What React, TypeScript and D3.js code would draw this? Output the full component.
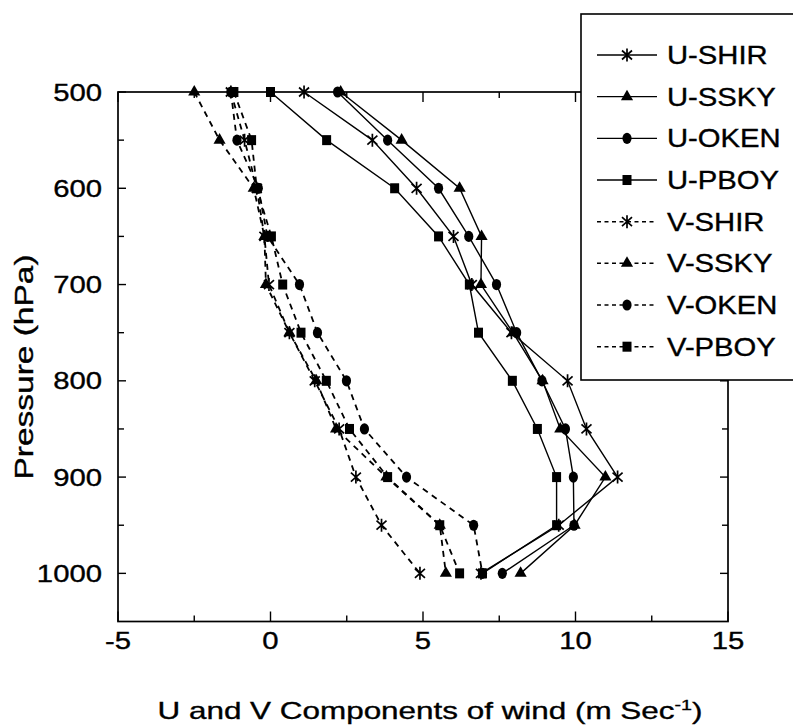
import React from 'react';
import * as d3 from 'd3';

const pressure = [500, 550, 600, 650, 700, 750, 800, 850, 900, 950, 1000];

const uShir = [1.1, 3.34, 4.79, 6.0, 6.6, 7.9, 9.74, 10.36, 11.38, 9.45, 6.9];
const uSsky = [2.3, 4.3, 6.2, 6.92, 6.9, 7.95, 8.92, 9.5, 10.98, 9.97, 8.2];
const uOken = [2.2, 3.84, 5.51, 6.5, 7.41, 8.07, 8.9, 9.67, 9.93, 9.95, 7.6];
const uPboy = [0.0, 1.84, 4.07, 5.51, 6.52, 6.82, 7.93, 8.75, 9.38, 9.38, 6.95];

const vShir = [-1.3, -0.85, -0.45, -0.2, -0.05, 0.62, 1.45, 2.25, 2.8, 3.64, 4.9];
const vSsky = [-2.5, -1.67, -0.55, -0.2, -0.15, 0.62, 1.5, 2.15, 3.8, 5.55, 5.75];
const vOken = [-1.3, -1.1, -0.4, -0.1, 0.95, 1.54, 2.49, 3.08, 4.46, 6.66, 6.95];
const vPboy = [-1.2, -0.62, -0.45, 0.03, 0.4, 1.0, 1.83, 2.59, 3.84, 5.55, 6.2];

const seriesNames = ['U-SHIR', 'U-SSKY', 'U-OKEN', 'U-PBOY', 'V-SHIR', 'V-SSKY', 'V-OKEN', 'V-PBOY'];
const seriesValues = [uShir, uSsky, uOken, uPboy, vShir, vSsky, vOken, vPboy];
const seriesMarkers = ['star', 'tri', 'circle', 'square', 'star', 'tri', 'circle', 'square'];
const seriesDashed = [false, false, false, false, true, true, true, true];

const xTickLabels = [-5, 0, 5, 10, 15];
const xMinorTicks = [-2.5, 2.5, 7.5, 12.5];
const yTickLabels = [500, 600, 700, 800, 900, 1000];
const yMinorTicks = [550, 650, 750, 850, 950];

const FONT = '"Liberation Sans", Arial, Helvetica, sans-serif';

function Marker({ kind, cx, cy }: { kind: string; cx: number; cy: number }) {
  if (kind === 'star') {
    const d = `M${cx},${cy - 6.5}V${cy + 6.5}M${cx - 5},${cy - 4.5}L${cx + 5},${cy + 4.5}M${cx - 5},${cy + 4.5}L${cx + 5},${cy - 4.5}`;
    return <path d={d} stroke="#000" strokeWidth={1.7} fill="none" />;
  }
  if (kind === 'tri') {
    const p = d3.symbol().type(d3.symbolTriangle).size(64)();
    return <path d={p || ''} transform={`translate(${cx},${cy})`} fill="#000" />;
  }
  if (kind === 'circle') {
    return <ellipse cx={cx} cy={cy} rx={4.6} ry={5.6} fill="#000" />;
  }
  return <rect x={cx - 4.5} y={cy - 5} width={9} height={10} fill="#000" />;
}

export default function App() {
  const W = 793;
  const H = 727;
  const x = d3.scaleLinear().domain([-5, 15]).range([118, 728]);
  const y = d3.scaleLinear().domain([500, 1050]).range([92, 621.5]);
  const [x0, x1] = x.range();
  const [y0, y1] = y.range();

  const line = d3
    .line<[number, number]>()
    .x((d) => x(d[0]))
    .y((d) => y(d[1]));

  const legendTop = 55;
  const legendStep = 41.67;
  const textStroke = { stroke: '#000', strokeWidth: 0.35 };

  return (
    <svg
      width={W}
      height={H}
      viewBox={`0 0 ${W} ${H}`}
      style={{ position: 'absolute', left: 0, top: 0, background: '#fff' }}
      fontFamily={FONT}
    >
      <rect x={0} y={0} width={W} height={H} fill="#fff" />

      {/* series */}
      {seriesValues.map((vals, si) => {
        const pts: [number, number][] = vals.map((v, i) => [v, pressure[i]]);
        return (
          <g key={seriesNames[si]}>
            <path
              d={line(pts) || ''}
              fill="none"
              stroke="#000"
              strokeWidth={seriesDashed[si] ? 1.8 : 1.4}
              strokeDasharray={seriesDashed[si] ? '6 5' : undefined}
            />
            {pts.map((p, i) => (
              <Marker key={i} kind={seriesMarkers[si]} cx={x(p[0])} cy={y(p[1])} />
            ))}
          </g>
        );
      })}

      {/* frame */}
      <rect x={x0} y={y0} width={x1 - x0} height={y1 - y0} fill="none" stroke="#000" strokeWidth={1.7} />

      {/* x ticks bottom & top */}
      {xTickLabels.concat(xMinorTicks).map((t) => {
        const major = xTickLabels.includes(t);
        const len = major ? 10 : 6;
        return (
          <g key={'xt' + t}>
            <line x1={x(t)} x2={x(t)} y1={y1} y2={y1 - len} stroke="#000" strokeWidth={1.4} />
            <line x1={x(t)} x2={x(t)} y1={y0} y2={y0 + len} stroke="#000" strokeWidth={1.4} />
          </g>
        );
      })}
      {/* y ticks left & right */}
      {yTickLabels.concat(yMinorTicks).map((t) => {
        const major = yTickLabels.includes(t);
        const len = major ? 8 : 6;
        return (
          <g key={'yt' + t}>
            <line x1={x0} x2={x0 + len} y1={y(t)} y2={y(t)} stroke="#000" strokeWidth={1.4} />
            <line x1={x1} x2={x1 - len} y1={y(t)} y2={y(t)} stroke="#000" strokeWidth={1.4} />
          </g>
        );
      })}

      {/* tick labels */}
      {xTickLabels.map((t) => (
        <text
          key={'xl' + t}
          transform={`translate(${x(t)},${649}) scale(1.22,1)`}
          textAnchor="middle"
          fontSize={24}
          fill="#000"
          {...textStroke}
        >
          {t}
        </text>
      ))}
      {yTickLabels.map((t) => (
        <text
          key={'yl' + t}
          transform={`translate(${102},${y(t) + 8.5}) scale(1.22,1)`}
          textAnchor="end"
          fontSize={24}
          fill="#000"
          {...textStroke}
        >
          {t}
        </text>
      ))}

      {/* axis titles */}
      <text
        transform={`translate(33,367) rotate(-90) scale(1.34,1)`}
        textAnchor="middle"
        fontSize={25}
        fill="#000"
        {...textStroke}
      >
        Pressure (hPa)
      </text>
      <text
        transform={`translate(430,719) scale(1.31,1)`}
        textAnchor="middle"
        fontSize={24}
        fill="#000"
        {...textStroke}
      >
        U and V Components of wind (m Sec
        <tspan fontSize={15} dy={-9}>-1</tspan>
        <tspan dy={9}>)</tspan>
      </text>

      {/* legend */}
      <rect x={581} y={14} width={240} height={366} fill="#fff" stroke="#000" strokeWidth={1.6} />
      {seriesNames.map((name, i) => {
        const cy = legendTop + i * legendStep;
        return (
          <g key={'lg' + name}>
            <line
              x1={597}
              x2={657}
              y1={cy}
              y2={cy}
              stroke="#000"
              strokeWidth={seriesDashed[i] ? 1.5 : 1.4}
              strokeDasharray={seriesDashed[i] ? '4 3.5' : undefined}
            />
            <Marker kind={seriesMarkers[i]} cx={627} cy={cy} />
            <text
              transform={`translate(667,${cy + 9}) scale(1.17,1)`}
              fontSize={25}
              fill="#000"
              {...textStroke}
            >
              {name}
            </text>
          </g>
        );
      })}
    </svg>
  );
}
